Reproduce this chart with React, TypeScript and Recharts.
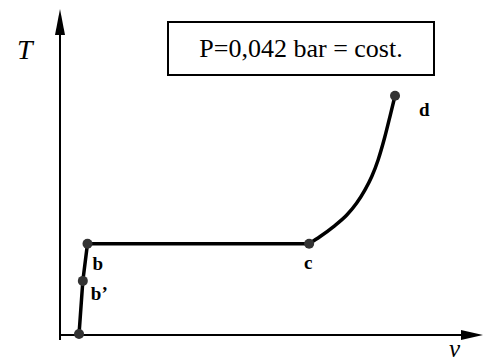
import { ComposedChart, Line, ReferenceDot, ReferenceLine, Scatter, XAxis, YAxis } from "recharts";

// specific volume v (arbitrary units, 0-100) vs temperature T (0-100)
const liquidBranch = [
  { v: 4.5, T: 0.3 },
  { v: 5.4, T: 16.6 },
  { v: 6.5, T: 28 },
];

const evaporation = [
  { v: 6.5, T: 28 },
  { v: 58.9, T: 28 },
];

const superheat = [
  { v: 58.9, T: 28 },
  { v: 61.5, T: 30.2 },
  { v: 64.6, T: 33.2 },
  { v: 67.8, T: 36.8 },
  { v: 70.1, T: 40.4 },
  { v: 72.1, T: 44.5 },
  { v: 73.7, T: 48.6 },
  { v: 75.2, T: 53.7 },
  { v: 76.8, T: 60.8 },
  { v: 78.0, T: 67.0 },
  { v: 79.2, T: 73.4 },
];

const statePoints = [
  { name: "a", label: "", v: 4.5, T: 0.3 },
  { name: "b'", label: "b’", v: 5.4, T: 16.6 },
  { name: "b", label: "b", v: 6.5, T: 28 },
  { name: "c", label: "c", v: 58.9, T: 28 },
  { name: "d", label: "d", v: 79.2, T: 73.4 },
];

const labelOffsets: Record<string, { dx: number; dy: number; anchor: string }> = {
  a: { dx: 0, dy: 0, anchor: "start" },
  "b'": { dx: 8, dy: 19, anchor: "start" },
  b: { dx: 5, dy: 26, anchor: "start" },
  c: { dx: -1, dy: 25, anchor: "middle" },
  d: { dx: 24, dy: 20, anchor: "start" },
};

const serif = "'Liberation Serif', 'Times New Roman', serif";

function StatePoint(props: any) {
  const { cx, cy, payload } = props;
  const off = labelOffsets[payload.name];
  return (
    <g>
      <circle cx={cx} cy={cy} r={5} fill="#333" />
      {payload.label && (
        <text
          x={cx + off.dx}
          y={cy + off.dy}
          textAnchor={off.anchor}
          style={{ fontFamily: serif, fontWeight: "bold", fontSize: 19 }}
          fill="#000"
        >
          {payload.label}
        </text>
      )}
    </g>
  );
}

function ArrowRight(props: any) {
  const { cx, cy } = props;
  return <polygon points={`${cx},${cy} ${cx - 22},${cy - 5} ${cx - 22},${cy + 5}`} fill="#000" />;
}

function ArrowUp(props: any) {
  const { cx, cy } = props;
  return <polygon points={`${cx},${cy} ${cx - 5},${cy + 26} ${cx + 5},${cy + 26}`} fill="#000" />;
}

export default function App() {
  return (
    <div style={{ position: "absolute", left: 0, top: 0, background: "#fff" }}>
      <ComposedChart width={485} height={361} margin={{ top: 9, right: 2, bottom: 26, left: 60 }}>
        <XAxis type="number" dataKey="v" domain={[0, 100]} hide />
        <YAxis type="number" dataKey="T" domain={[0, 100]} hide />

        <ReferenceLine
          segment={[{ x: 0, y: 0 }, { x: 95, y: 0 }]}
          stroke="#000"
          strokeWidth={2}
          ifOverflow="visible"
        />
        <ReferenceLine
          segment={[{ x: 0, y: -1.5 }, { x: 0, y: 94 }]}
          stroke="#000"
          strokeWidth={2}
          ifOverflow="visible"
        />
        <ReferenceDot x={100} y={0} shape={ArrowRight} ifOverflow="visible" />
        <ReferenceDot x={0} y={100} shape={ArrowUp} ifOverflow="visible" />

        <Line data={liquidBranch} dataKey="T" type="linear" stroke="#000" strokeWidth={3.5} dot={false} isAnimationActive={false} />
        <Line data={evaporation} dataKey="T" type="linear" stroke="#000" strokeWidth={3.5} dot={false} isAnimationActive={false} />
        <Line data={superheat} dataKey="T" type="monotone" stroke="#000" strokeWidth={3.5} dot={false} isAnimationActive={false} />
        <Scatter data={statePoints} dataKey="T" shape={StatePoint} isAnimationActive={false} />

        <text x={17} y={59} style={{ fontFamily: serif, fontStyle: "italic", fontSize: 28 }} fill="#000">
          T
        </text>
        <text x={449} y={357} style={{ fontFamily: serif, fontStyle: "italic", fontSize: 25 }} fill="#000">
          v
        </text>
        <rect x={168} y={22} width={266} height={53} fill="#fff" stroke="#000" strokeWidth={2} />
        <text x={301} y={57} textAnchor="middle" style={{ fontFamily: serif, fontSize: 26 }} fill="#000">
          P=0,042 bar = cost.
        </text>
      </ComposedChart>
    </div>
  );
}
